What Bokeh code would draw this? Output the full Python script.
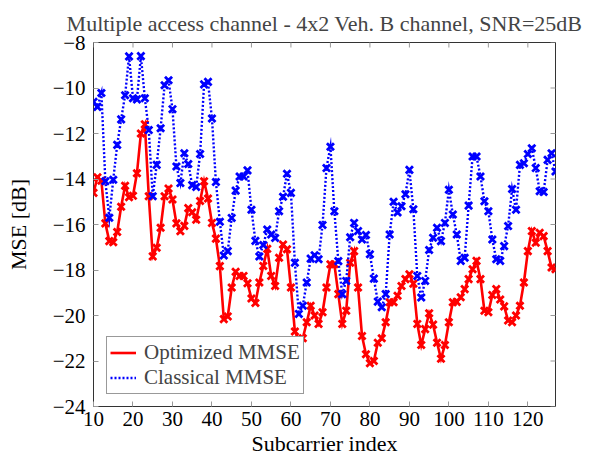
import math
from bokeh.plotting import figure
from bokeh.models import Range1d, Legend, LegendItem, FixedTicker
from bokeh.embed import file_html
from bokeh.resources import INLINE

subcarrier = list(range(10, 128))

optimized_mmse = [
    -14.61, -13.92, -14.08, -15.95, -16.73, -16.78, -16.33, -15.22, -14.30, -14.80,
    -14.74, -13.75, -12.00, -11.60, -14.76, -17.40, -17.02, -16.14, -14.76, -14.42,
    -14.90, -15.95, -16.30, -16.06, -15.28, -15.46, -15.79, -14.97, -14.10, -14.86,
    -15.93, -16.62, -17.83, -20.16, -20.04, -18.77, -18.08, -18.26, -18.26, -18.58,
    -19.25, -19.45, -18.55, -17.82, -17.07, -18.26, -18.70, -17.46, -16.88, -17.09,
    -18.77, -20.70, -21.10, -21.00, -20.30, -19.57, -20.00, -20.37, -19.86, -18.77,
    -17.75, -17.75, -19.06, -20.37, -19.79, -17.68, -17.17, -18.77, -20.90, -21.70,
    -22.10, -22.00, -21.20, -21.00, -20.30, -19.42, -19.42, -19.13, -18.70, -18.40,
    -18.19, -18.60, -20.37, -21.30, -20.60, -19.90, -20.40, -21.20, -21.90, -21.30,
    -20.30, -19.42, -19.40, -19.20, -18.84, -18.40, -17.97, -17.60, -18.40, -19.79,
    -19.86, -19.10, -18.84, -19.30, -19.60, -20.22, -20.30, -20.00, -19.57, -18.55,
    -17.17, -16.29, -16.80, -16.36, -16.51, -17.17, -17.89, -17.97,
]

classical_mmse = [
    -10.61, -10.83, -10.22, -14.10, -15.70, -14.03, -12.50, -11.38, -10.32, -8.61,
    -10.45, -10.50, -8.60, -10.45, -11.85, -14.76, -13.38, -11.77, -9.88, -9.66,
    -10.93, -13.45, -14.18, -12.87, -13.34, -14.27, -14.35, -12.90, -9.84, -9.73,
    -11.34, -14.13, -15.88, -17.36, -17.17, -15.71, -14.51, -13.89, -13.89, -13.62,
    -15.35, -16.72, -17.41, -16.90, -16.22, -16.44, -16.59, -15.42, -14.78, -13.77,
    -14.61, -17.68, -19.93, -19.57, -18.55, -17.50, -17.35, -17.53, -16.02, -13.52,
    -12.58, -15.42, -17.61, -19.06, -18.48, -16.56, -15.93, -16.29, -16.66, -16.46,
    -17.31, -18.38, -19.39, -19.64, -19.06, -16.44, -15.00, -15.47, -15.20, -14.67,
    -13.60, -15.33, -18.26, -19.21, -18.48, -17.12, -16.58, -16.14, -16.73, -15.93,
    -14.47, -15.56, -16.44, -17.60, -17.46, -15.17, -13.01, -13.01, -13.89, -14.98,
    -15.42, -16.66, -17.53, -17.60, -16.95, -16.07, -14.44, -15.35, -13.38, -13.31,
    -12.90, -12.65, -13.52, -14.54, -14.57, -13.16, -12.87, -13.67,
]

x_ticks = [10, 20, 30, 40, 50, 60, 70, 80, 90, 100, 110, 120]
y_ticks = [-8, -10, -12, -14, -16, -18, -20, -22, -24]
x_lim = (10, 127)
y_lim = (-24, -8)

FONT = "Liberation Serif"
TICK_COLOR = "#999999"

p = figure(width=586, height=458, output_backend="svg", toolbar_location=None,
           x_range=Range1d(*x_lim), y_range=Range1d(*y_lim),
           min_border_left=93, min_border_right=31, min_border_top=42, min_border_bottom=50,
           x_axis_label="Subcarrier index", y_axis_label="MSE [dB]")

p.title.text = "Multiple access channel - 4x2 Veh. B channel, SNR=25dB"
p.title.align = "center"
p.title.text_font = FONT
p.title.text_font_style = "normal"
p.title.text_font_size = "22px"
p.title.standoff = 14

p.grid.visible = False
p.outline_line_color = "#333333"
p.outline_line_width = 1
p.background_fill_color = "white"
p.border_fill_color = "white"

minus_labels = {t: ("\u2212" + str(abs(t))) for t in y_ticks}

for ax in (p.xaxis[0], p.yaxis[0]):
    ax.axis_line_color = None
    ax.major_tick_in = 5
    ax.major_tick_out = 0
    ax.minor_tick_line_color = None
    ax.major_tick_line_color = TICK_COLOR
    ax.major_tick_line_width = 1
    ax.major_label_text_font = FONT
    ax.axis_label_text_font = FONT
    ax.axis_label_text_font_style = "normal"
    ax.axis_label_text_color = "black"
    ax.major_label_text_color = "black"
    ax.major_label_text_font_size = "21px"
    ax.axis_label_text_font_size = "22px"

xa = p.xaxis[0]
ya = p.yaxis[0]
xa.ticker = FixedTicker(ticks=x_ticks)
ya.ticker = FixedTicker(ticks=y_ticks)
ya.major_label_overrides = minus_labels
xa.major_label_standoff = 5
xa.axis_label_standoff = 2
ya.major_label_standoff = 8
ya.axis_label_standoff = 19

# mirrored inward ticks on the top and right frame edges (half of each dash is clipped by the frame)
p.scatter(x_ticks, [y_lim[1]] * len(x_ticks), marker="dash", size=10, angle=math.pi / 2,
          line_color=TICK_COLOR, line_width=1)
p.scatter([x_lim[1]] * len(y_ticks), y_ticks, marker="dash", size=10,
          line_color=TICK_COLOR, line_width=1)

red_line = p.line(subcarrier, optimized_mmse, line_color="#ff0000", line_width=2.6, line_join="miter")
p.scatter(subcarrier, optimized_mmse, marker="x", size=10, line_width=2.8, line_color="#ff0000")
blue_line = p.line(subcarrier, classical_mmse, line_color="#0000ff", line_width=2.4,
                   line_dash="2 2", line_join="miter")
p.scatter(subcarrier, classical_mmse, marker="x", size=10, line_width=2.8, line_color="#0000ff")

legend = Legend(items=[LegendItem(label="Optimized MMSE", renderers=[red_line]),
                       LegendItem(label="Classical MMSE", renderers=[blue_line])],
                location=(13, 12), margin=0, padding=3, spacing=0,
                glyph_width=26, glyph_height=21, label_height=21, label_standoff=8,
                label_text_font=FONT, label_text_font_size="21px",
                border_line_color="#333333", border_line_width=1,
                background_fill_color="white", background_fill_alpha=1.0)
p.add_layout(legend, "center")

open("out.html", "w").write(file_html(p, INLINE))
